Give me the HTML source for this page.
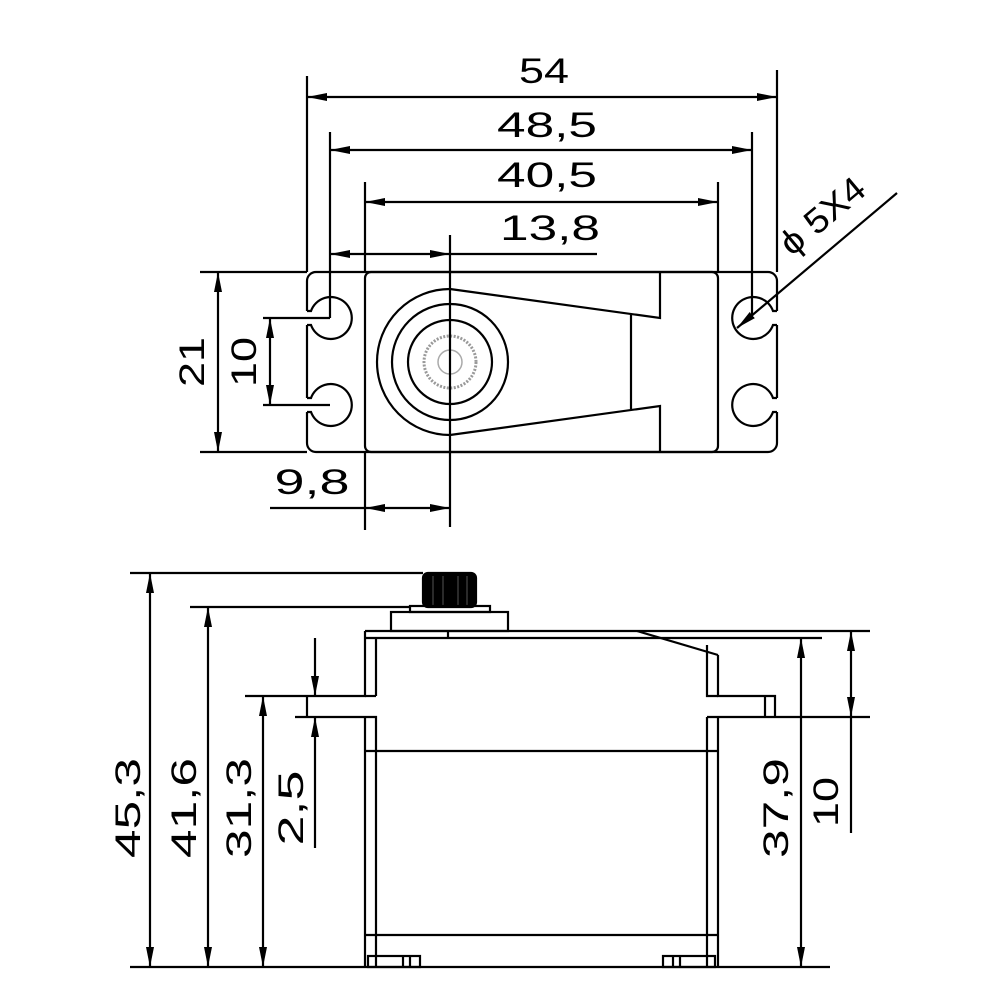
<!DOCTYPE html>
<html><head><meta charset="utf-8"><style>html,body{margin:0;padding:0;background:#fff}svg{display:block}</style></head><body>
<svg width="1000" height="1000" viewBox="0 0 1000 1000" xmlns="http://www.w3.org/2000/svg">
<defs>
<marker id="a" viewBox="0 0 20 10" refX="20" refY="5" markerWidth="20" markerHeight="10" markerUnits="userSpaceOnUse" orient="auto-start-reverse"><path d="M0,1 L20,5 L0,9 z" fill="#000"/></marker>
</defs>
<g stroke="#000" stroke-width="2.2" fill="none">
<rect x="307" y="272" width="470" height="180" rx="9"/>
<rect x="365" y="272" width="353" height="180" rx="6"/>
</g>
<g fill="#fff" stroke="none">
<rect x="303" y="311" width="12" height="14"/><rect x="303" y="398" width="12" height="14"/>
<rect x="770" y="311" width="12" height="14"/><rect x="770" y="398" width="12" height="14"/>
</g>
<g stroke="#000" stroke-width="2.2" fill="none">
<path d="M307,311 L311,311 A21,21 0 1 1 311,325 L307,325"/>
<path d="M307,398 L311,398 A21,21 0 1 1 311,412 L307,412"/>
<path d="M777,311 L773,311 A21,21 0 1 0 773,325 L777,325"/>
<path d="M777,398 L773,398 A21,21 0 1 0 773,412 L777,412"/>
<path d="M450,289 A73,73 0 0 0 450,435"/>
<path d="M450,289 L660,318 L660,272"/>
<path d="M450,435 L660,406 L660,452"/>
<line x1="631" y1="315" x2="631" y2="409"/>
<circle cx="450" cy="362" r="58"/>
<circle cx="450" cy="362" r="42"/>
<circle cx="450" cy="362" r="26" stroke="#999" stroke-width="3" stroke-dasharray="2 1.5"/>
<circle cx="450" cy="362" r="12" stroke="#aaa" stroke-width="1.5"/>
<line x1="450" y1="235" x2="450" y2="527"/>
<line x1="307" y1="76" x2="307" y2="272"/>
<line x1="777" y1="70" x2="777" y2="272"/>
<line x1="330" y1="132" x2="330" y2="318"/>
<line x1="752" y1="132" x2="752" y2="318"/>
<line x1="365" y1="182" x2="365" y2="272"/>
<line x1="718" y1="182" x2="718" y2="272"/>
<line x1="365" y1="452" x2="365" y2="530"/>
<line x1="200" y1="272" x2="307" y2="272"/>
<line x1="200" y1="452" x2="307" y2="452"/>
<line x1="263" y1="318" x2="330" y2="318"/>
<line x1="263" y1="405" x2="330" y2="405"/>
<line x1="307" y1="97" x2="777" y2="97" marker-start="url(#a)" marker-end="url(#a)"/>
<line x1="330" y1="150" x2="752" y2="150" marker-start="url(#a)" marker-end="url(#a)"/>
<line x1="365" y1="202" x2="718" y2="202" marker-start="url(#a)" marker-end="url(#a)"/>
<line x1="330" y1="254" x2="450" y2="254" marker-start="url(#a)" marker-end="url(#a)"/>
<line x1="450" y1="254" x2="597" y2="254"/>
<line x1="218" y1="272" x2="218" y2="452" marker-start="url(#a)" marker-end="url(#a)"/>
<line x1="270" y1="318" x2="270" y2="405" marker-start="url(#a)" marker-end="url(#a)"/>
<line x1="270" y1="508" x2="365" y2="508"/>
<line x1="365" y1="508" x2="450" y2="508" marker-start="url(#a)" marker-end="url(#a)"/>
<line x1="897" y1="193" x2="737" y2="328" marker-end="url(#a)"/>

<rect x="423" y="573" width="53" height="34" rx="5" fill="#000"/>
<g stroke="#555" stroke-width="1"><line x1="433" y1="576" x2="433" y2="605"/><line x1="443" y1="576" x2="443" y2="605"/><line x1="458" y1="576" x2="458" y2="605"/><line x1="467" y1="576" x2="467" y2="605"/></g>
<rect x="410" y="606" width="80" height="6"/>
<rect x="391" y="612" width="117" height="19"/>
<line x1="365" y1="631" x2="870" y2="631"/>
<line x1="365" y1="638" x2="822" y2="638"/>
<line x1="448" y1="631" x2="448" y2="638"/>
<line x1="637" y1="631" x2="718" y2="655"/>
<path d="M365,631 L365,696 L300,696"/>
<path d="M376,638 L376,696"/>
<path d="M718,655 L718,696 L775,696 L775,717"/>
<path d="M707,645 L707,696 L718,696"/>
<path d="M376,696 L365,696"/>
<line x1="765" y1="696" x2="765" y2="717"/>
<line x1="295" y1="717" x2="365" y2="717"/>
<path d="M365,717 L376,717 L376,967"/>
<line x1="365" y1="717" x2="365" y2="967"/>
<line x1="707" y1="717" x2="707" y2="967"/>
<line x1="718" y1="717" x2="718" y2="967"/>
<line x1="707" y1="717" x2="870" y2="717"/>
<line x1="365" y1="751" x2="718" y2="751"/>
<line x1="365" y1="935" x2="718" y2="935"/>
<rect x="368" y="956" width="52" height="11"/>
<line x1="403" y1="956" x2="403" y2="967"/><line x1="410" y1="956" x2="410" y2="967"/>
<rect x="663" y="956" width="52" height="11"/>
<line x1="673" y1="956" x2="673" y2="967"/><line x1="680" y1="956" x2="680" y2="967"/>
<line x1="130" y1="967" x2="830" y2="967"/>
<line x1="130" y1="573" x2="423" y2="573"/>
<line x1="190" y1="607" x2="410" y2="607"/>
<line x1="245" y1="696" x2="300" y2="696"/>
<line x1="307" y1="696" x2="307" y2="717"/>
<line x1="150" y1="573" x2="150" y2="967" marker-start="url(#a)" marker-end="url(#a)"/>
<line x1="208" y1="607" x2="208" y2="967" marker-start="url(#a)" marker-end="url(#a)"/>
<line x1="263" y1="696" x2="263" y2="967" marker-start="url(#a)" marker-end="url(#a)"/>
<line x1="315" y1="638" x2="315" y2="696" marker-end="url(#a)"/>
<line x1="315" y1="848" x2="315" y2="717" marker-end="url(#a)"/>
<line x1="801" y1="638" x2="801" y2="967" marker-start="url(#a)" marker-end="url(#a)"/>
<line x1="851" y1="631" x2="851" y2="717" marker-start="url(#a)" marker-end="url(#a)"/>
<line x1="851" y1="717" x2="851" y2="833"/>
</g>
<g font-family="Liberation Sans, sans-serif" font-size="35" fill="#000" text-anchor="middle">
<text x="544" y="83" textLength="50" lengthAdjust="spacingAndGlyphs">54</text>
<text x="547" y="137" textLength="100" lengthAdjust="spacingAndGlyphs">48,5</text>
<text x="547" y="187" textLength="100" lengthAdjust="spacingAndGlyphs">40,5</text>
<text x="550" y="240" textLength="100" lengthAdjust="spacingAndGlyphs">13,8</text>
<text x="312" y="494" textLength="75" lengthAdjust="spacingAndGlyphs">9,8</text>
<text transform="translate(204,362) rotate(-90)" textLength="50" lengthAdjust="spacingAndGlyphs">21</text>
<text transform="translate(256,362) rotate(-90)" textLength="50" lengthAdjust="spacingAndGlyphs">10</text>
<text transform="translate(830,225) rotate(-40)" textLength="100" lengthAdjust="spacingAndGlyphs">ϕ 5X4</text>
<text transform="translate(140,808) rotate(-90)" textLength="100" lengthAdjust="spacingAndGlyphs">45,3</text>
<text transform="translate(196,808) rotate(-90)" textLength="100" lengthAdjust="spacingAndGlyphs">41,6</text>
<text transform="translate(251,808) rotate(-90)" textLength="100" lengthAdjust="spacingAndGlyphs">31,3</text>
<text transform="translate(303,808) rotate(-90)" textLength="75" lengthAdjust="spacingAndGlyphs">2,5</text>
<text transform="translate(788,808) rotate(-90)" textLength="100" lengthAdjust="spacingAndGlyphs">37,9</text>
<text transform="translate(838,802) rotate(-90)" textLength="50" lengthAdjust="spacingAndGlyphs">10</text>
</g>
</svg>
</body></html>
